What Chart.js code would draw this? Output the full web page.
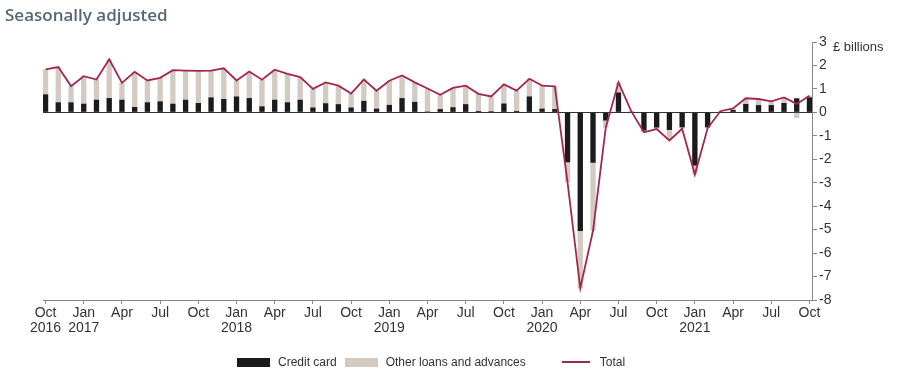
<!DOCTYPE html>
<html>
<head>
<meta charset="utf-8">
<script src="https://cdn.jsdelivr.net/npm/chart.js@4/dist/chart.umd.min.js"></script>
<style>
  html, body { margin: 0; padding: 0; background: #fff; }
  #wrap { position: relative; width: 900px; height: 386px; overflow: hidden; }
  #title { position: absolute; left: 5px; top: 3px; font: 600 17px 'Open Sans', sans-serif; color: #56677a; }
  #unit { position: absolute; left: 833px; top: 39px; font: 13px 'Liberation Sans', Arial, sans-serif; color: #333; }
  #legend { position: absolute; left: 237px; top: 355px; font: 12px 'Liberation Sans', Arial, sans-serif; color: #333; display: flex; align-items: center; white-space: nowrap; }
  .sw { display: inline-block; width: 33px; height: 9px; margin-right: 8px; }
  .ln { display: inline-block; width: 28px; height: 2px; margin-right: 10px; }
  canvas { position: absolute; left: 0; top: 0; }
</style>
</head>
<body>
<div id="wrap">
  <canvas id="c" width="900" height="386"></canvas>
  <div id="title">Seasonally adjusted</div>
  <div id="unit">£ billions</div>
  <div id="legend">
    <span class="sw" style="background:#1b1b1b"></span><span style="margin-right:8px">Credit card</span>
    <span class="sw" style="background:#d3cbc2"></span><span style="margin-right:36px">Other loans and advances</span>
    <span class="ln" style="background:#a3284e"></span><span>Total</span>
  </div>
</div>
<script>
// Months Oct 2016 .. Oct 2021
const categories = [
  'Oct 2016','Nov 2016','Dec 2016',
  'Jan 2017','Feb 2017','Mar 2017','Apr 2017','May 2017','Jun 2017','Jul 2017','Aug 2017','Sep 2017','Oct 2017','Nov 2017','Dec 2017',
  'Jan 2018','Feb 2018','Mar 2018','Apr 2018','May 2018','Jun 2018','Jul 2018','Aug 2018','Sep 2018','Oct 2018','Nov 2018','Dec 2018',
  'Jan 2019','Feb 2019','Mar 2019','Apr 2019','May 2019','Jun 2019','Jul 2019','Aug 2019','Sep 2019','Oct 2019','Nov 2019','Dec 2019',
  'Jan 2020','Feb 2020','Mar 2020','Apr 2020','May 2020','Jun 2020','Jul 2020','Aug 2020','Sep 2020','Oct 2020','Nov 2020','Dec 2020',
  'Jan 2021','Feb 2021','Mar 2021','Apr 2021','May 2021','Jun 2021','Jul 2021','Aug 2021','Sep 2021','Oct 2021'
];

const creditCard = [
  0.77, 0.43, 0.43,
  0.37, 0.54, 0.61, 0.54, 0.23, 0.43, 0.47, 0.37, 0.54, 0.40, 0.64, 0.57,
  0.68, 0.61, 0.26, 0.54, 0.43, 0.54, 0.21, 0.39, 0.35, 0.21, 0.49, 0.16,
  0.32, 0.61, 0.45, 0.04, 0.14, 0.22, 0.35, 0.06, 0.05, 0.38, 0.06, 0.68,
  0.16, 0.14, -2.13, -5.06, -2.15, -0.35, 0.85, 0.03, -0.78, -0.65, -0.75, -0.64,
  -2.27, -0.64, 0.02, 0.10, 0.36, 0.31, 0.31, 0.40, 0.60, 0.64
];

const otherLoans = [
  1.06, 1.50, 0.69,
  1.17, 0.86, 1.65, 0.72, 1.50, 0.93, 1.00, 1.43, 1.24, 1.37, 1.14, 1.31,
  0.68, 1.13, 1.13, 1.28, 1.21, 0.96, 0.79, 0.89, 0.79, 0.59, 0.91, 0.76,
  1.03, 0.96, 0.83, 0.98, 0.61, 0.82, 0.79, 0.73, 0.63, 0.81, 0.87, 0.75,
  0.98, 0.97, -0.85, -2.44, -2.90, -0.30, 0.43, 0.02, -0.07, -0.06, -0.42, -0.06,
  -0.38, -0.04, 0.03, 0.07, 0.24, 0.26, 0.16, 0.24, -0.24, 0.07
];

const total = [
  1.83, 1.93, 1.12,
  1.54, 1.40, 2.26, 1.26, 1.73, 1.36, 1.47, 1.80, 1.78, 1.77, 1.78, 1.88,
  1.36, 1.74, 1.39, 1.82, 1.64, 1.50, 1.00, 1.28, 1.14, 0.80, 1.40, 0.92,
  1.35, 1.57, 1.28, 1.02, 0.75, 1.04, 1.14, 0.79, 0.68, 1.19, 0.93, 1.43,
  1.14, 1.11, -2.98, -7.50, -5.05, -0.65, 1.28, 0.05, -0.85, -0.71, -1.20, -0.70,
  -2.65, -0.68, 0.05, 0.17, 0.60, 0.57, 0.47, 0.64, 0.36, 0.71
];

// Tick labels, one every third month starting at Oct 2016
const xTickMonths = ['Oct','Jan','Apr','Jul','Oct','Jan','Apr','Jul','Oct','Jan','Apr','Jul','Oct','Jan','Apr','Jul','Oct','Jan','Apr','Jul','Oct'];
const xTickYears  = ['2016','2017','','','','2018','','','','2019','','','','2020','','','','2021','','',''];
const yTicks = [3, 2, 1, 0, -1, -2, -3, -4, -5, -6, -7, -8];

const pts = arr => arr.map((v, i) => ({ x: i, y: v }));
const tickIdx = xTickMonths.map((_, k) => k * 3);

new Chart(document.getElementById('c'), {
  type: 'bar',
  data: {
    datasets: [
      { label: 'Credit card', data: pts(creditCard), backgroundColor: '#1b1b1b', stack: 's', order: 1,
        barPercentage: 0.42, categoryPercentage: 1 },
      { label: 'Other loans and advances', data: pts(otherLoans), backgroundColor: '#d3cbc2', stack: 's', order: 1,
        barPercentage: 0.42, categoryPercentage: 1 },
      { type: 'line', label: 'Total', data: pts(total), borderColor: '#a3284e', borderWidth: 1.8,
        pointRadius: 0, tension: 0, order: 0, fill: false }
    ]
  },
  options: {
    responsive: false,
    animation: false,
    layout: { padding: { left: 43, top: 42, right: 0, bottom: 0 } },
    plugins: { legend: { display: false }, tooltip: { enabled: false }, title: { display: false } },
    scales: {
      x: {
        type: 'linear', min: -0.2, max: 60.2, offset: false,
        afterBuildTicks: s => { s.ticks = tickIdx.map(v => ({ value: v })); },
        afterFit: s => { s.height = 86; },
        grid: { offset: false, drawOnChartArea: false, drawTicks: true, tickLength: 4, tickColor: '#888' },
        border: { display: true, color: '#888', width: 1 },
        ticks: {
          autoSkip: false, maxRotation: 0, padding: 1, color: '#333',
          font: { family: "'Liberation Sans', Arial, sans-serif", size: 14, lineHeight: 1.1 },
          callback: v => {
            const k = tickIdx.indexOf(v);
            if (k < 0) return '';
            return xTickYears[k] ? [xTickMonths[k], xTickYears[k]] : xTickMonths[k];
          }
        }
      },
      y: {
        position: 'right', min: -8, max: 3,
        afterBuildTicks: s => { s.ticks = yTicks.map(v => ({ value: v })); },
        afterFit: s => { s.width = 88; },
        grid: {
          drawOnChartArea: true, drawTicks: true, tickLength: 5, tickColor: '#888',
          color: c => (c.tick && c.tick.value === 0) ? '#333' : 'rgba(0,0,0,0)', lineWidth: 1
        },
        border: { display: true, color: '#888', width: 1 },
        ticks: {
          padding: 2, color: '#333',
          font: { family: "'Liberation Sans', Arial, sans-serif", size: 14 },
          callback: v => String(v)
        }
      }
    }
  }
});
</script>
</body>
</html>
